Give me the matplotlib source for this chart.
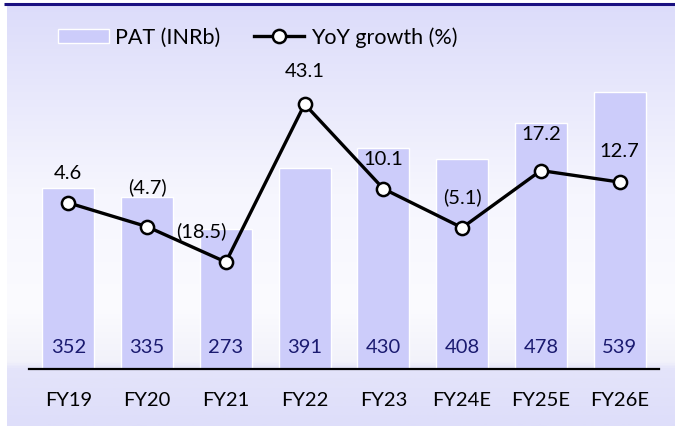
import numpy as np
import matplotlib
matplotlib.use("Agg")
import matplotlib.pyplot as plt
from matplotlib.colors import LinearSegmentedColormap
from matplotlib.lines import Line2D
from matplotlib.patches import Patch

categories = ["FY19", "FY20", "FY21", "FY22", "FY23", "FY24E", "FY25E", "FY26E"]
pat = [352, 335, 273, 391, 430, 408, 478, 539]
yoy = [4.6, -4.7, -18.5, 43.1, 10.1, -5.1, 17.2, 12.7]
yoy_labels = ["4.6", "(4.7)", "(18.5)", "43.1", "10.1", "(5.1)", "17.2", "12.7"]

plt.rcParams['font.family'] = ['Lato', 'DejaVu Sans']
FS = 14.5

W, H = 675, 427
fig = plt.figure(figsize=(W / 100, H / 100), dpi=100)

# background gradient panel
bg = fig.add_axes([0, 0, 1, 1], zorder=-10)
bg.set_xlim(0, W)
bg.set_ylim(H, 0)
bg.axis("off")
stops = [(0.0, "#dcdcfa"), (0.45, "#f6f6fe"), (0.72, "#fbfbff"), (0.85, "#f2f2fa"),
         (0.867, "#e4e4fa"), (1.0, "#dedefa")]
cmap = LinearSegmentedColormap.from_list("bgc", stops)
grad = np.linspace(0, 1, 400).reshape(-1, 1)
bg.imshow(grad, cmap=cmap, aspect="auto", extent=[7, W, H, 5], zorder=0)
bg.plot([4, W], [4.5, 4.5], color="#1a1080", lw=2.2, solid_capstyle="butt", zorder=2)

ax = fig.add_axes([29 / W, 57 / H, 630 / W, 350 / H])
ax.patch.set_alpha(0)
x = np.arange(len(categories))
bars = ax.bar(x, pat, width=0.66, color="#ccccfa", edgecolor="white", linewidth=1.0,
              zorder=2)
ax.set_xlim(-0.5, len(categories) - 0.5)
ax.set_ylim(0, 681)
for xi, v in zip(x, pat):
    ax.text(xi, 44, f"{v}", ha="center", va="center", fontsize=FS, color="#1a1a70",
            zorder=5)
for s in ["top", "right", "left"]:
    ax.spines[s].set_visible(False)
ax.spines["bottom"].set_linewidth(1.6)
ax.spines["bottom"].set_color("black")
ax.set_yticks([])
ax.set_xticks(x)
ax.set_xticklabels(categories, fontsize=FS)
ax.tick_params(axis="x", length=0, pad=16)

ax2 = ax.twinx()
ax2.set_ylim(-60.2, 76.3)
ax2.axis("off")
ax2.plot(x, yoy, color="black", lw=2.4, marker="o", markersize=9.5,
         markerfacecolor="white", markeredgecolor="black", markeredgewidth=1.8, zorder=4)
offsets = [(0, 22), (0, 29), (-18, 23), (0, 24), (0, 22), (0, 23), (0, 27), (0, 23)]
for xi, v, lab, off in zip(x, yoy, yoy_labels, offsets):
    ax2.annotate(lab, (xi, v), xytext=off, textcoords="offset points", ha="center",
                 va="center", fontsize=FS, color="black")

LFS = 15.5
handles = [Patch(facecolor="#ccccfa", edgecolor="white"),
           Line2D([0], [0], color="black", lw=2.4, marker="o", markersize=9.5,
                  markerfacecolor="white", markeredgecolor="black", markeredgewidth=1.8)]
fig.legend(handles, ["PAT (INRb)", "YoY growth (%)"], loc="center left",
           bbox_to_anchor=(58 / W, 1 - 38 / H), ncol=2, frameon=False, fontsize=LFS,
           borderpad=0, borderaxespad=0,
           handlelength=2.35, handletextpad=0.3, columnspacing=1.55, handleheight=0.65)

fig.savefig("out.png", dpi=100)
